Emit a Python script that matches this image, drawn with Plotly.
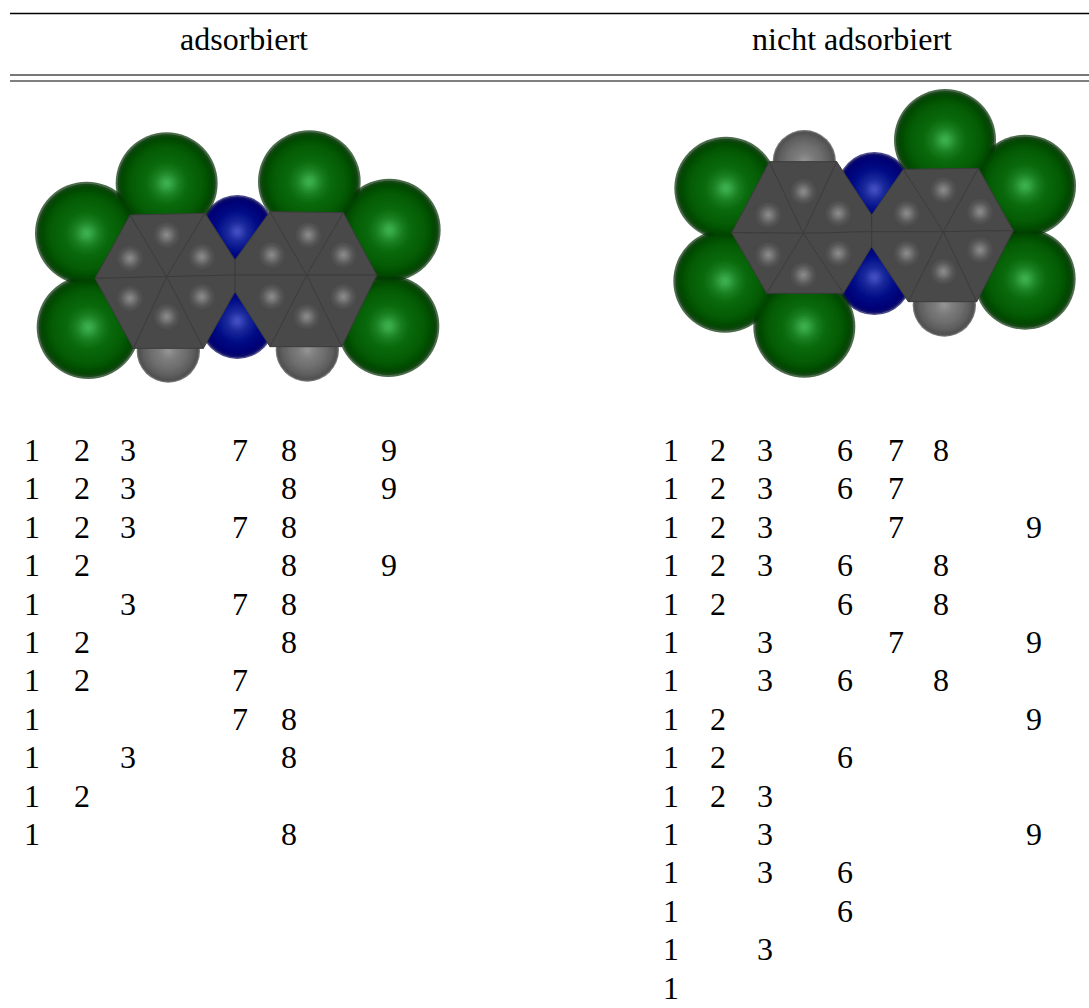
import plotly.graph_objects as go

WIDTH, HEIGHT = 1089, 1008
SERIF = "Liberation Serif"

headers = ["adsorbiert", "nicht adsorbiert"]
header_x = [244, 852]
header_y = 42

rule_x = [10, 1089]
rule_y = [13.5, 75, 81]
rule_w = [1.3, 2, 1.2]
rule_c = ["#000000", "#777777", "#000000"]

row_y0, row_step = 453, 38.4

left_cols = {1: 32, 2: 82, 3: 128, 7: 240, 8: 289, 9: 389}
left_rows = [[1, 2, 3, 7, 8, 9], [1, 2, 3, 8, 9], [1, 2, 3, 7, 8], [1, 2, 8, 9],
             [1, 3, 7, 8], [1, 2, 8], [1, 2, 7], [1, 7, 8], [1, 3, 8], [1, 2], [1, 8]]
right_cols = {1: 671, 2: 718, 3: 765, 6: 845, 7: 896, 8: 941, 9: 1034}
right_rows = [[1, 2, 3, 6, 7, 8], [1, 2, 3, 6, 7], [1, 2, 3, 7, 9], [1, 2, 3, 6, 8],
              [1, 2, 6, 8], [1, 3, 7, 9], [1, 3, 6, 8], [1, 2, 9], [1, 2, 6], [1, 2, 3],
              [1, 3, 9], [1, 3, 6], [1, 6], [1, 3], [1]]

# Atoms in 3x crop coordinates: (x, y, radius)
left_origin = (20, 120)
left_cl = [(200, 340, 155), (440, 190, 153), (205, 622, 155), (868, 185, 154), (1108, 330, 154), (1105, 618, 153)]
left_n = [(652, 335, 110), (652, 603, 114)]
left_h = [(445, 693, 95), (862, 690, 95)]
left_c = [(330, 415), (440, 345), (545, 410), (545, 530), (440, 590), (330, 535),
          (755, 405), (865, 345), (970, 405), (970, 530), (860, 590), (755, 530)]
left_cells = [
    [(225, 475), (330, 285), (440, 470)],
    [(330, 285), (555, 280), (440, 470)],
    [(555, 280), (645, 420), (645, 465), (440, 470)],
    [(440, 470), (645, 465), (645, 515), (550, 685)],
    [(440, 470), (550, 685), (340, 685)],
    [(225, 475), (440, 470), (340, 685)],
    [(645, 420), (750, 275), (860, 465), (645, 465)],
    [(750, 275), (970, 278), (860, 465)],
    [(970, 278), (1070, 465), (860, 465)],
    [(1070, 465), (965, 680), (860, 465)],
    [(860, 465), (965, 680), (750, 680)],
    [(645, 465), (860, 465), (750, 680), (645, 515)],
]

right_origin = (660, 80)
right_cl = [(198, 325, 155), (855, 180, 153), (1095, 317, 153), (195, 603, 155), (433, 740, 153), (1095, 597, 152)]
right_n = [(643, 328, 112), (643, 592, 113)]
right_h = [(433, 245, 95), (853, 675, 95)]
right_c = [(325, 405), (430, 335), (535, 400), (535, 520), (430, 585), (325, 525),
           (740, 400), (850, 330), (960, 395), (960, 510), (850, 575), (740, 520)]
right_cells = [
    [(215, 458), (328, 245), (430, 460)],
    [(328, 245), (530, 245), (430, 460)],
    [(530, 245), (635, 405), (635, 455), (430, 460)],
    [(430, 460), (635, 455), (635, 500), (550, 640)],
    [(430, 460), (550, 640), (320, 640)],
    [(215, 458), (430, 460), (320, 640)],
    [(635, 405), (730, 268), (850, 455), (635, 455)],
    [(730, 268), (955, 265), (850, 455)],
    [(955, 265), (1060, 452), (850, 455)],
    [(1060, 452), (950, 665), (850, 455)],
    [(850, 455), (950, 665), (745, 665)],
    [(635, 455), (850, 455), (745, 665), (635, 500)],
]

# Shading profiles: (fraction of radius, colour)
cl_shade = [(1.0, "#002c00"), (0.93, "#004500"), (0.75, "#055c05"), (0.45, "#0a6a0c"),
            (0.28, "#1a7f22"), (0.12, "#35a545"), (0.0, "#44b855")]
n_shade = [(1.0, "#00005a"), (0.9, "#000074"), (0.6, "#000c86"), (0.3, "#1a2a9c"),
           (0.12, "#3c48bc"), (0.0, "#4a55c8")]
h_shade = [(1.0, "#3a3a3a"), (0.9, "#585858"), (0.6, "#6e6e6e"), (0.3, "#7e7e7e"),
           (0.0, "#989898")]
c_glow = [(1.0, "#4a4a4a"), (0.7, "#585858"), (0.35, "#767676"), (0.0, "#929292")]
C_FILL, C_EDGE = "#494949", "#3c3c3c"
C_GLOW_R = 14


def hex_rgb(c):
    return [int(c[i:i + 2], 16) for i in (1, 3, 5)]


def colour_at(profile, f):
    for (f1, c1), (f2, c2) in zip(profile, profile[1:]):
        if f2 <= f <= f1:
            t = (f - f2) / (f1 - f2)
            a, b = hex_rgb(c1), hex_rgb(c2)
            return "rgb(%d,%d,%d)" % tuple(round(y + (x - y) * t) for x, y in zip(a, b))
    return profile[-1][1]


def px(p, origin):
    return origin[0] + p[0] / 3, origin[1] + p[1] / 3


fig = go.Figure()


def add_atoms(atoms, origin, profile, layers=26):
    xs = [px(a, origin)[0] for a in atoms]
    ys = [px(a, origin)[1] for a in atoms]
    rs = [a[2] / 3 for a in atoms]
    for i in range(layers):
        f = 1 - i / layers
        fig.add_trace(go.Scatter(x=xs, y=ys, mode="markers", hoverinfo="skip",
                                 marker=dict(size=[2 * r * f for r in rs], color=colour_at(profile, f),
                                             line=dict(width=0))))


def add_carbons(centres, cells, origin):
    for cell in cells:
        pts = [px(p, origin) for p in cell] + [px(cell[0], origin)]
        fig.add_trace(go.Scatter(x=[p[0] for p in pts], y=[p[1] for p in pts], mode="lines", fill="toself",
                                 fillcolor=C_FILL, line=dict(color=C_EDGE, width=1), hoverinfo="skip"))
    xs = [px(c, origin)[0] for c in centres]
    ys = [px(c, origin)[1] for c in centres]
    for i in range(10):
        f = 1 - i / 10
        fig.add_trace(go.Scatter(x=xs, y=ys, mode="markers", hoverinfo="skip",
                                 marker=dict(size=2 * C_GLOW_R * f, color=colour_at(c_glow, f), line=dict(width=0))))


for y, w, c in zip(rule_y, rule_w, rule_c):
    fig.add_trace(go.Scatter(x=rule_x, y=[y, y], mode="lines", line=dict(color=c, width=w), hoverinfo="skip"))

for n, h, cl, c, cells, o in [(left_n, left_h, left_cl, left_c, left_cells, left_origin),
                              (right_n, right_h, right_cl, right_c, right_cells, right_origin)]:
    add_atoms(n, o, n_shade)
    add_atoms(h, o, h_shade)
    add_atoms(cl, o, cl_shade)
    add_carbons(c, cells, o)

fig.add_trace(go.Scatter(x=header_x, y=[header_y] * 2, mode="text", text=headers, hoverinfo="skip",
                         textfont=dict(family=SERIF, size=32, color="#000000")))


def add_digits(rows, cols):
    xs, ys, ts = [], [], []
    for i, row in enumerate(rows):
        for d in row:
            xs.append(cols[d])
            ys.append(row_y0 + i * row_step)
            ts.append(str(d))
    fig.add_trace(go.Scatter(x=xs, y=ys, mode="text", text=ts, hoverinfo="skip",
                             textfont=dict(family=SERIF, size=32, color="#000000")))


add_digits(left_rows, left_cols)
add_digits(right_rows, right_cols)

fig.update_layout(width=WIDTH, height=HEIGHT, margin=dict(l=0, r=0, t=0, b=0), showlegend=False,
                  paper_bgcolor="white", plot_bgcolor="white",
                  xaxis=dict(range=[0, WIDTH], visible=False, fixedrange=True),
                  yaxis=dict(range=[HEIGHT, 0], visible=False, fixedrange=True))
fig.write_html("out.html", config={"displayModeBar": False},
               post_script="document.body.style.margin='0';document.body.style.overflow='hidden';")
